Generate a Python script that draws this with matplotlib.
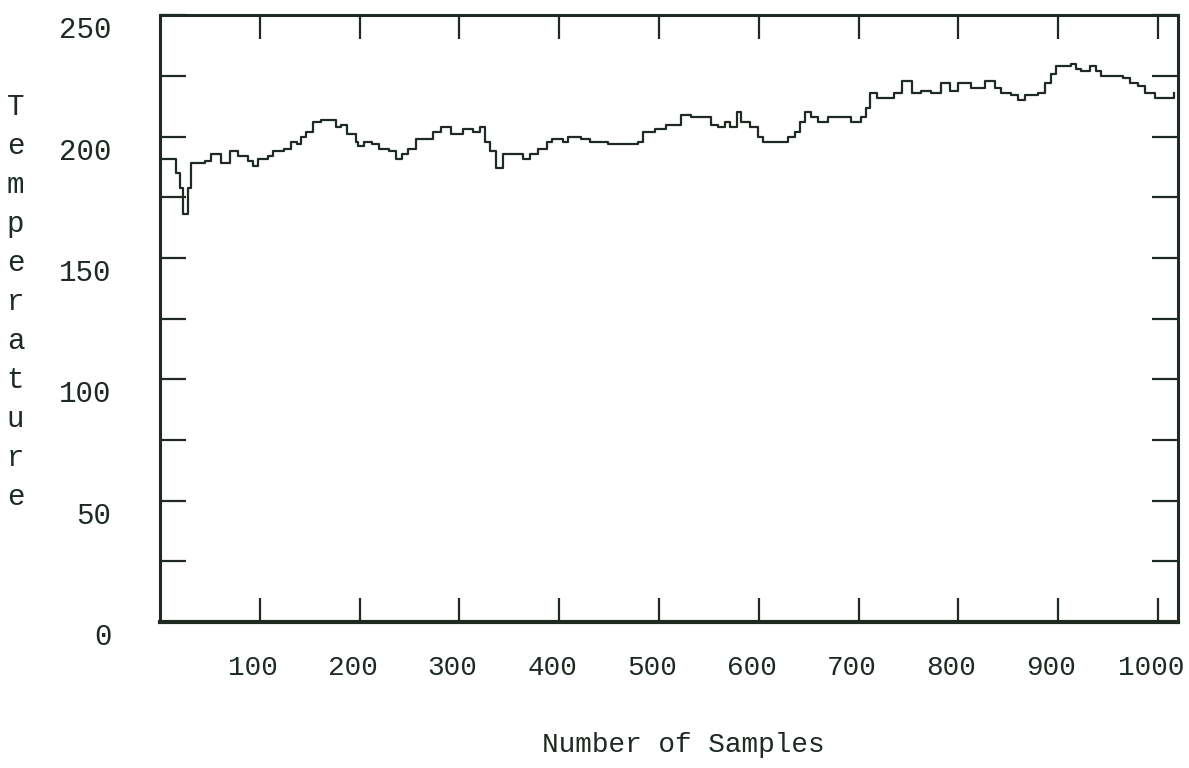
import matplotlib
matplotlib.use('Agg')
import matplotlib.pyplot as plt
from matplotlib.ticker import MultipleLocator
from matplotlib.transforms import ScaledTranslation

# readings (sample index, temperature)
samples = [1, 13, 16, 20, 23, 28, 31, 36, 45, 51, 58, 61, 70, 78, 88, 93, 98,
           108, 113, 124, 131, 137, 141, 146, 153, 161, 168, 176, 181, 187,
           196, 198, 204, 212, 219, 229, 236, 242, 249, 257,
           267, 274, 282, 292, 304, 314, 321, 326, 331, 337, 344, 354, 364,
           371, 379, 388, 393, 404, 409, 422, 431, 436, 449, 466, 479, 484,
           496, 507,
           512, 522, 532, 546, 552, 559, 566, 571, 578, 582, 591, 599, 604,
           614, 624, 629, 636, 641, 646, 652, 659, 669, 686, 692, 702, 707,
           712, 719, 734, 736, 744, 754,
           763, 773, 783, 792, 800, 813, 820, 827, 837, 843, 853, 860, 867,
           873, 880, 887, 893, 898, 907, 913, 918, 923, 932, 938, 943, 950,
           958, 965, 972, 980, 987, 997, 1007, 1016]
temps = [191, 191, 185, 179, 168, 179, 189, 189, 190, 193, 193, 189, 194, 192,
         190, 188, 191, 192, 194, 195, 198, 197, 200, 202, 206, 207, 207, 204,
         205, 201, 198, 196, 198, 197, 195, 194, 191, 193, 195, 199,
         199, 202, 204, 201, 203, 202, 204, 198, 194, 187, 193, 193, 191,
         193, 195, 198, 199, 198, 200, 199, 198, 198, 197, 197, 198, 202,
         203, 205,
         205, 209, 208, 208, 205, 204, 206, 204, 210, 206, 204, 200, 198,
         198, 198, 200, 202, 206, 210, 208, 206, 208, 208, 206, 208, 212,
         218, 216, 216, 218, 223, 218,
         219, 218, 222, 219, 222, 220, 220, 223, 220, 218, 217, 215, 217,
         217, 218, 222, 226, 229, 229, 230, 228, 227, 229, 227, 225, 225,
         225, 224, 222, 221, 218, 216, 216, 218]

x_ticks = [100, 200, 300, 400, 500, 600, 700, 800, 900, 1000]
y_ticks = [0, 50, 100, 150, 200, 250]

mono = ['Liberation Mono', 'DejaVu Sans Mono']
ink = '#1e2a22'

fig = plt.figure(figsize=(11.89, 7.68), dpi=100)
ax = fig.add_axes([0.1346, 0.19, 0.856, 0.79])

ax.plot(samples, temps, drawstyle='steps-post', color=ink, lw=1.6)

ax.set_xlim(0, 1020)
ax.set_ylim(0, 250)
ax.set_xticks(x_ticks)
ax.set_xticklabels([str(v) for v in x_ticks], family=mono, fontsize=20, color=ink)
ax.set_yticks(y_ticks)
ax.set_yticklabels([str(v) for v in y_ticks], family=mono, fontsize=21, color=ink)
ax.yaxis.set_minor_locator(MultipleLocator(25))

ax.tick_params(axis='both', which='both', direction='in', top=True, right=True,
               color=ink, width=1.6)
ax.tick_params(axis='y', which='both', length=19)
ax.tick_params(axis='x', which='both', length=17, pad=24)
ax.tick_params(axis='y', which='major', pad=35)

# the printer put the labels a bit below / left of their ticks
for lab in ax.get_yticklabels():
    lab.set_transform(lab.get_transform() + ScaledTranslation(0, -0.12, fig.dpi_scale_trans))
for lab in ax.get_xticklabels():
    lab.set_transform(lab.get_transform() + ScaledTranslation(-0.07, 0, fig.dpi_scale_trans))

for s in ax.spines.values():
    s.set_color(ink)
    s.set_linewidth(2.2)
ax.spines['bottom'].set_linewidth(3)

fig.text(0.575, 0.03, 'Number of Samples', family=mono, fontsize=20,
         color=ink, ha='center', va='center')
fig.text(0.013, 0.607, '\n'.join('Temperature'), family=mono, fontsize=21,
         color=ink, ha='center', va='center', linespacing=1.5)

fig.savefig('out.png', dpi=100)
